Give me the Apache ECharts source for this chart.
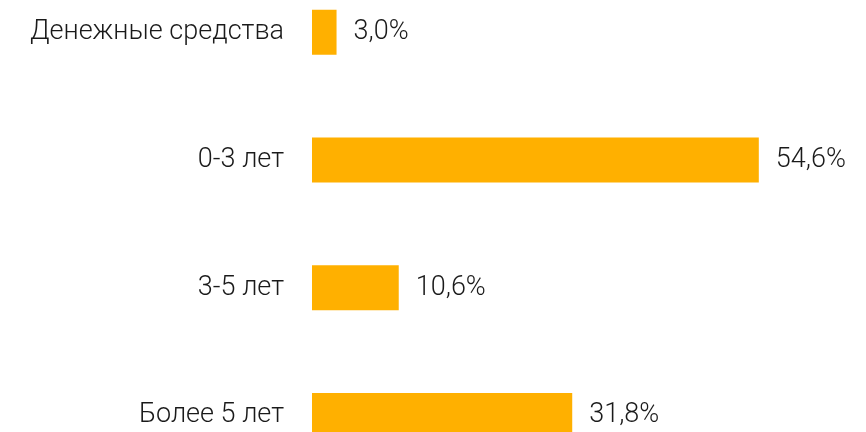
<!DOCTYPE html>
<html>
<head>
<meta charset="utf-8">
<style>html,body{margin:0;padding:0;background:#fff;}#c{width:866px;height:432px;}</style>
<script src="https://cdn.jsdelivr.net/npm/echarts@6/dist/echarts.min.js"></script>
</head>
<body>
<div id="c"></div>
<script>
const categories = ['Денежные средства', '0-3 лет', '3-5 лет', 'Более 5 лет'];
const values = [3.0, 54.6, 10.6, 31.8];

const chart = echarts.init(document.getElementById('c'));
chart.setOption({
  animation: false,
  grid: { left: 312, right: 63, top: -31.5, bottom: -47.3, containLabel: false, outerBoundsMode: 'none' },
  xAxis: { type: 'value', min: 0, max: 60, show: false },
  yAxis: {
    type: 'category', data: categories, inverse: true,
    axisLine: { show: false }, axisTick: { show: false },
    axisLabel: { color: '#1a1a1a', fontSize: 27, fontFamily: 'Roboto', fontWeight: 300, margin: 28, padding: [7, 0, 0, 0] }
  },
  series: [{
    type: 'bar', data: values, barWidth: 45,
    itemStyle: { color: '#FFB000' },
    label: {
      show: true, position: 'right', distance: 17,
      color: '#1a1a1a', fontSize: 27, fontFamily: 'Roboto', fontWeight: 300, padding: [7, 0, 0, 0],
      formatter: p => p.value.toFixed(1).replace('.', ',') + '%'
    }
  }]
});
</script>
</body>
</html>
